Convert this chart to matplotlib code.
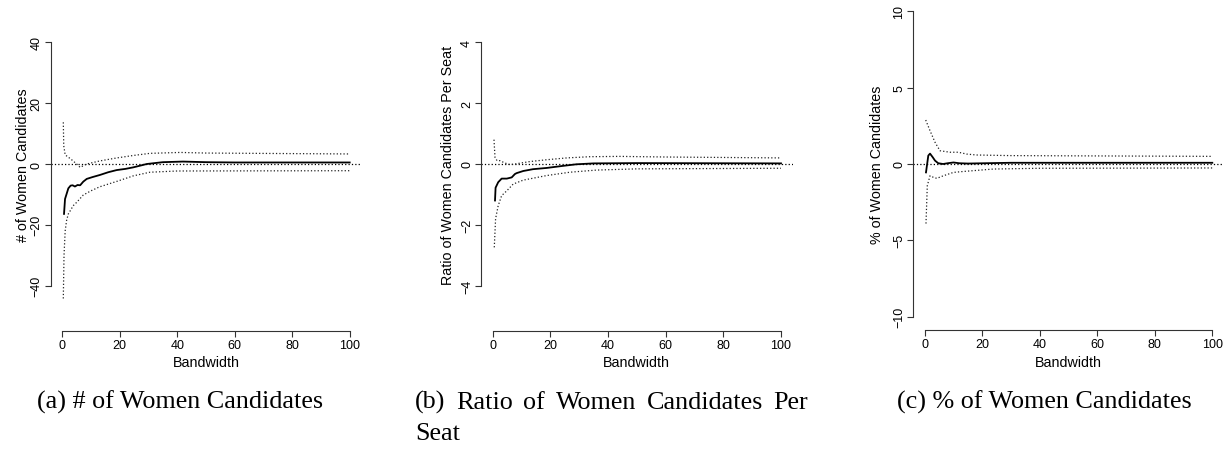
import matplotlib
matplotlib.use("Agg")
import matplotlib.pyplot as plt

# ---------------- data ----------------
# Panel (a): # of Women Candidates
a_est_bw = [0.6, 0.95, 2.1, 2.9, 3.6, 4.4, 5.3, 6.2, 7.3, 8.5, 10.5, 13.1, 16, 18.9, 22, 24.7, 29.4, 35, 42, 50, 60, 100]
a_est = [-16.4, -11.5, -8.0, -7.1, -7.0, -7.4, -6.9, -7.0, -5.8, -4.9, -4.3, -3.6, -2.7, -2.0, -1.6, -1.1, 0.0, 0.6, 0.8, 0.6, 0.5, 0.5]
a_up_bw = [0.35, 0.5, 1.0, 3.0, 5.0, 6.2, 8.5, 13, 19, 24.7, 30.5, 41, 50, 100]
a_up = [13.7, 6.0, 3.0, 1.6, 0.0, -1.1, 0.0, 1.0, 2.0, 2.8, 3.5, 3.8, 3.6, 3.3]
a_lo_bw = [0.35, 0.6, 1.0, 1.5, 2.1, 3.0, 3.8, 5, 7.3, 10, 13, 19, 24.7, 30.5, 40, 100]
a_lo = [-44.2, -30, -22, -18.5, -16.4, -15, -13.7, -12.6, -10.2, -8.8, -7.5, -5.7, -3.9, -2.7, -2.3, -2.2]

# Panel (b): Ratio of Women Candidates Per Seat
b_est_bw = [0.8, 1.0, 1.9, 3.1, 4.9, 6.6, 7.7, 8.3, 10.6, 14, 18.7, 24.5, 29, 35, 50, 100]
b_est = [-1.2, -0.78, -0.6, -0.48, -0.48, -0.44, -0.33, -0.3, -0.23, -0.17, -0.13, -0.06, -0.01, 0.02, 0.03, 0.02]
b_up_bw = [0.45, 0.8, 1.5, 2.5, 4.3, 6.0, 7.7, 12.9, 18.7, 25.7, 33.7, 44, 60, 100]
b_up = [0.8, 0.22, 0.11, 0.11, 0.03, -0.02, 0.0, 0.08, 0.14, 0.2, 0.24, 0.25, 0.23, 0.2]
b_lo_bw = [0.55, 1.0, 1.9, 3.1, 4.9, 7.1, 10.6, 18.7, 26.8, 36, 50, 100]
b_lo = [-2.74, -1.8, -1.37, -1.04, -0.88, -0.66, -0.53, -0.38, -0.27, -0.2, -0.16, -0.14]

# Panel (c): % of Women Candidates
c_est_bw = [0.45, 1.25, 1.85, 2.8, 3.6, 4.7, 6.4, 8, 10, 12, 15, 30, 100]
c_est = [-0.55, 0.55, 0.68, 0.44, 0.22, 0.05, 0.0, 0.05, 0.1, 0.05, 0.03, 0.08, 0.08]
c_up_bw = [0.35, 1.85, 3.6, 5.3, 8.8, 11.7, 14.6, 18, 29.7, 100]
c_up = [2.88, 2.18, 1.42, 0.87, 0.77, 0.77, 0.65, 0.59, 0.55, 0.5]
c_lo_bw = [0.45, 0.9, 1.85, 3.0, 4.2, 6.5, 10, 13.4, 23.9, 40, 100]
c_lo = [-3.9, -1.42, -0.77, -0.87, -0.94, -0.77, -0.55, -0.49, -0.33, -0.28, -0.26]

x_ticks = [0, 20, 40, 60, 80, 100]
a_yticks = [-40, -20, 0, 20, 40]
b_yticks = [-4, -2, 0, 2, 4]
c_yticks = [-10, -5, 0, 5, 10]

y_labels = ["# of Women Candidates", "Ratio of Women Candidates Per Seat", "% of Women Candidates"]
x_label = "Bandwidth"

# ---------------- figure ----------------
W, H = 1231, 452
fig = plt.figure(figsize=(W / 100, H / 100), dpi=100)
fig.patch.set_facecolor("white")

SANS = ["Liberation Sans", "DejaVu Sans"]
SERIF = ["Liberation Serif", "DejaVu Serif"]

panels = [
    # x0px (data 0), px/unit x, y0px (data 0), px/unit y, ylim half, yticks, ylabel px x, data
    dict(x0=62.3, sx=2.874, y0=165.0, sy=3.0425, yh=54.9, yt=a_yticks, ylab_x=23.5,
         est=(a_est_bw, a_est), up=(a_up_bw, a_up), lo=(a_lo_bw, a_lo), ylab=y_labels[0]),
    dict(x0=492.7, sx=2.883, y0=165.0, sy=30.42, yh=5.49, yt=b_yticks, ylab_x=448.5,
         est=(b_est_bw, b_est), up=(b_up_bw, b_up), lo=(b_lo_bw, b_lo), ylab=y_labels[1]),
    dict(x0=924.7, sx=2.876, y0=165.0, sy=15.27, yh=10.87, yt=c_yticks, ylab_x=877.5,
         est=(c_est_bw, c_est), up=(c_up_bw, c_up), lo=(c_lo_bw, c_lo), ylab=y_labels[2]),
]

XL, XR = -4.0, 104.0
dot = (0, (1.0, 1.7))

for p in panels:
    left_px = p["x0"] + XL * p["sx"]
    right_px = p["x0"] + XR * p["sx"]
    top_px = p["y0"] - p["yh"] * p["sy"]
    bot_px = p["y0"] + p["yh"] * p["sy"]
    ax = fig.add_axes([left_px / W, 1 - bot_px / H, (right_px - left_px) / W, (bot_px - top_px) / H])
    ax.set_xlim(XL, XR)
    ax.set_ylim(-p["yh"], p["yh"])
    ax.patch.set_alpha(0)

    ax.axhline(0, color="black", lw=0.9, linestyle=dot, zorder=1)
    ax.plot(*p["up"], color="#222222", lw=0.9, linestyle=dot, zorder=2)
    ax.plot(*p["lo"], color="#222222", lw=0.9, linestyle=dot, zorder=2)
    ax.plot(*p["est"], color="black", lw=1.3, zorder=3)

    for s in ("top", "right"):
        ax.spines[s].set_visible(False)
    for s in ("left", "bottom"):
        ax.spines[s].set_linewidth(0.8)
        ax.spines[s].set_color("#333333")
    ax.spines["left"].set_bounds(p["yt"][0], p["yt"][-1])
    ax.spines["bottom"].set_bounds(0, 100)

    ax.set_xticks(x_ticks)
    ax.set_yticks(p["yt"])
    ax.set_xticklabels([str(t) for t in x_ticks], family=SANS, fontsize=9)
    ax.set_yticklabels([str(t).replace("-", "\u2212") for t in p["yt"]], family=SANS, fontsize=9,
                       rotation=90, va="center", ha="right")
    ax.tick_params(axis="both", direction="out", length=4.3, width=0.8, color="#333333", pad=1.5)

    ax.set_xlabel(x_label, family=SANS, fontsize=10.3)
    ax.xaxis.label.set_va("center")
    ax.xaxis.set_label_coords(0.5, (bot_px - 363) / (bot_px - top_px))

    ax.set_ylabel(p["ylab"], family=SANS, fontsize=10.3)
    ax.yaxis.label.set_va("center")
    ax.yaxis.label.set_ha("center")
    ax.yaxis.set_label_coords((p["ylab_x"] - left_px) / (right_px - left_px), 0.5)

# ---------------- captions ----------------
CAP = 18.8
base1 = 1 - 409 / H
base2 = 1 - 440 / H
fig.text(180.5 / W, base1, "(a) # of Women Candidates", family=SERIF, fontsize=CAP, ha="center", va="baseline")
fig.text(1044 / W, base1, "(c) % of Women Candidates", family=SERIF, fontsize=CAP, ha="center", va="baseline")

# (b) justified first line + second line
words = ["(b)", "Ratio", "of", "Women", "Candidates", "Per"]
bl, br = 415.0, 808.0
renderer = fig.canvas.get_renderer()
txts = [fig.text(0, base1, w, family=SERIF, fontsize=CAP, ha="left", va="baseline") for w in words]
widths = [t.get_window_extent(renderer).width for t in txts]
gap = (br - bl - sum(widths)) / (len(words) - 1)
xpos = bl
for t, w in zip(txts, widths):
    t.set_x(xpos / W)
    xpos += w + gap
fig.text(bl / W, base2, "Seat", family=SERIF, fontsize=CAP, ha="left", va="baseline")

fig.savefig("out.png", dpi=100, facecolor="white")
